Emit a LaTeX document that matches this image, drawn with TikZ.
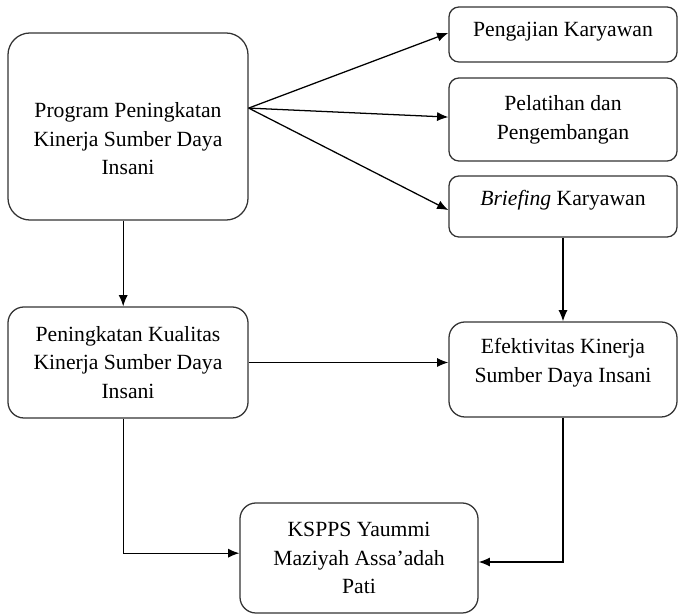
\documentclass[tikz,border=0pt]{standalone}
\usepackage{fontspec}
\setmainfont{LiberationSerif}[Extension=.ttf, UprightFont=*-Regular,
  ItalicFont=*-Italic, BoldFont=*-Bold, BoldItalicFont=*-BoldItalic]
\usepackage{tikz}
\usetikzlibrary{arrows.meta}

\begin{document}
\begin{tikzpicture}[x=0.025cm, y=-0.025cm,
     >={Latex[length=8pt, width=6.5pt]}, line width=0.9pt,
     every node/.style = {draw=black!80, align=center, inner sep=2pt,
     font=\fontsize{15.4pt}{20.5pt}\selectfont}]
        \useasboundingbox (0,0) rectangle (680,615);
        % left column
        \node [minimum width=6cm, minimum height=4.675cm,
                rounded corners=0.55cm]
            at (128,126.5) (prog) {\rule{0pt}{28pt}Program Peningkatan\\
                Kinerja Sumber Daya\\ Insani};
        \node [minimum width=6cm, minimum height=2.775cm,
                rounded corners=0.4cm]
            at (128,362.5) (kual) {Peningkatan Kualitas\\
                Kinerja Sumber Daya\\ Insani};
        % right column
        \node [minimum width=5.7cm, minimum height=1.375cm,
                rounded corners=0.25cm]
            at (563,34.5) (kaji) {Pengajian Karyawan\rule[-7pt]{0pt}{0pt}};
        \node [minimum width=5.7cm, minimum height=2.075cm,
                rounded corners=0.25cm]
            at (563,119.5) (latih) {Pelatihan dan\\ Pengembangan};
        \node [minimum width=5.7cm, minimum height=1.525cm,
                rounded corners=0.25cm]
            at (563,206.5) (brief) {\textit{Briefing} Karyawan\rule[-12pt]{0pt}{0pt}};
        \node [minimum width=5.7cm, minimum height=2.375cm,
                rounded corners=0.4cm]
            at (563,369.5) (efek) {Efektivitas Kinerja\\
                Sumber Daya Insani\rule[-13pt]{0pt}{0pt}};
        % bottom
        \node [minimum width=5.95cm, minimum height=2.75cm,
                rounded corners=0.4cm]
            at (359,558) (ksp) {KSPPS Yaummi\\
                Maziyah Assa’adah\\ Pati};
        \draw [->] ([yshift=0.46cm]prog.east) -- ([yshift=0.04cm]kaji.west);
        \draw [->] ([yshift=0.46cm]prog.east) -- ([yshift=0.06cm]latih.west);
        \draw [->] ([yshift=0.46cm]prog.east) -- ([yshift=-0.09cm]brief.west);
        \draw [->] ([xshift=-0.12cm]prog.south) -- ([xshift=-0.12cm]kual.north);
        \draw [->] (kual.east) -- (kual.east -| efek.west);
        \draw [->] (brief) -- (efek);
        \draw [->] ([xshift=-0.12cm]kual.south) |- ([yshift=0.12cm]ksp.west);
        \draw [->] (efek.south) |- ([yshift=-0.1cm]ksp.east);
\end{tikzpicture}
\end{document}
